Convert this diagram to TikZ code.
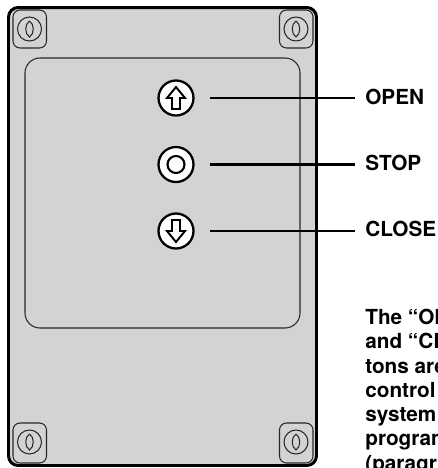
\documentclass[tikz,border=0pt]{standalone}
\usepackage{fontspec}
\setmainfont{TeX Gyre Heros}
\usepackage{tikz}
\definecolor{platefill}{RGB}{209,211,212}
\tikzset{
  plate/.style={draw=black, fill=platefill, line width=1.7pt, rounded corners=5.5pt},
  panel/.style={draw=black!85, line width=0.6pt, rounded corners=8.5pt},
  holder/.style={draw=black!85, line width=0.6pt, rounded corners=4pt},
  keyhole/.style={circle, draw=black!85, line width=0.6pt, minimum size=0.48cm, inner sep=0pt},
  pushbutton/.style={circle, draw=black, fill=white, line width=1.3pt, minimum size=0.7cm, inner sep=0pt},
  glyph/.style={draw=black, line width=1.1pt, line join=miter},
  leader/.style={draw=black, line width=1.2pt, shorten <=0.3cm, shorten >=0.2cm},
  tag/.style={font=\bfseries\fontsize{11.8}{13.8}\selectfont, anchor=west, inner sep=0pt}
}
\begin{document}
\begin{tikzpicture}[x=0.02cm, y=-0.02cm]
\useasboundingbox (0,0) rectangle (438,468);
\clip (0,0) rectangle (438,468);

\draw[plate] (8.5,7.5) rectangle (316.5,465.5);
\draw[panel] (25,58) rectangle (300,328);

% fixing points in the four corners
\foreach \name/\px/\py/\pt/\pb in {tl/29.5/29/19/19, tr/296/29/19/19, bl/29.5/442/19/21, br/296/442/19/21}{
  \draw[holder] (\px-16.5,\py-\pt) rectangle (\px+17,\py+\pb);
  \node[keyhole] (key\name) at (\px,\py) {};
  \draw[line width=0.6pt, draw=black!85] (\px,\py-8) .. controls (\px+5,\py-5) and (\px+5,\py+5) .. (\px,\py+8)
     .. controls (\px-5,\py+5) and (\px-5,\py-5) .. (\px,\py-8);
}

\node[pushbutton] (open) at (176,98) {};
\node[pushbutton] (stop) at (176,164.5) {};
\node[pushbutton] (close) at (176,231) {};

\draw[glyph] (176,87) -- (185,98) -- (180,98) -- (180,109) -- (172,109) -- (172,98) -- (167,98) -- cycle;
\node[circle, draw=black, line width=1.2pt, minimum size=0.34cm, inner sep=0pt] (stopring) at (stop) {};
\draw[glyph] (176,242) -- (185,231) -- (180,231) -- (180,220) -- (172,220) -- (172,231) -- (167,231) -- cycle;

\node[tag] (opentag) at (365,97) {OPEN};
\node[tag] (stoptag) at (365,163) {STOP};
\node[tag] (closetag) at (365,229) {CLOSE};

\foreach \name in {open,stop,close}
  \draw[leader] (\name) -- (\name -| \name tag.west);

\node[font=\bfseries\fontsize{11.8}{13.8}\selectfont, anchor=north west, inner sep=0pt, align=left] (note) at (365,309)
  {The “OP\\and “CL\\tons are\\control\\system\\program\\(paragr};
\end{tikzpicture}
\end{document}
